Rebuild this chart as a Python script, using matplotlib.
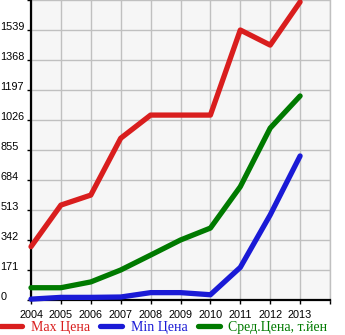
import matplotlib.pyplot as plt
from matplotlib.lines import Line2D

# price history per year
years = [2004, 2005, 2006, 2007, 2008, 2009, 2010, 2011, 2012, 2013]
max_price = [304, 541, 598, 922, 1054, 1054, 1054, 1539, 1453, 1699]
min_price = [5, 15, 15, 17, 42, 42, 30, 186, 485, 821]
avg_price = [70, 70, 103, 171, 256, 342, 410, 646, 980, 1163]

yticks = [0, 171, 342, 513, 684, 855, 1026, 1197, 1368, 1539]

red = '#d91e1e'
blue = '#1a1ad6'
green = '#007a00'

fig = plt.figure(figsize=(3.45, 3.35), dpi=100)
ax = fig.add_axes([31/345, 35/335, 299/345, 300/335])
ax.set_facecolor('#f6f6f6')

lw = 3.8
ax.plot(years, max_price, color=red, lw=lw, solid_capstyle='round',
        solid_joinstyle='round', clip_on=False, zorder=3)
ax.plot(years, min_price, color=blue, lw=lw, solid_capstyle='round',
        solid_joinstyle='round', clip_on=False, zorder=3)
ax.plot(years, avg_price, color=green, lw=lw, solid_capstyle='round',
        solid_joinstyle='round', clip_on=False, zorder=3)

ax.set_xlim(2004, 2014)
ax.set_ylim(0, 1710)
ax.set_xticks(years + [2014])
ax.set_xticklabels([str(y) for y in years] + [''])
ax.set_yticks(yticks + [1710])
ax.set_yticklabels([str(v) for v in yticks] + [''])
ax.grid(True, color='#c0c0c0', lw=1.0, zorder=1)
ax.set_axisbelow(True)

ax.spines['top'].set_visible(False)
ax.spines['right'].set_color('#c0c0c0')
ax.spines['right'].set_linewidth(1.0)
ax.spines['left'].set_linewidth(1.6)
ax.spines['bottom'].set_linewidth(1.6)

ax.tick_params(axis='x', length=3, width=1, pad=4, labelsize=7.8)
ax.tick_params(axis='y', length=3, width=1, pad=19, labelsize=7.8)
for lab in ax.get_xticklabels() + ax.get_yticklabels():
    lab.set_family('Liberation Sans')
for lab in ax.get_yticklabels():
    lab.set_ha('left')
    lab.set_va('baseline')

handles = [Line2D([], [], color=c, lw=lw, solid_capstyle='round') for c in (red, blue, green)]
leg = fig.legend(handles, ['Max Цена', 'Min Цена', 'Сред.Цена, т.йен'],
                 loc='center left', bbox_to_anchor=(0.0, 1 - 327/335), ncol=3,
                 frameon=False, handlelength=1.6, handletextpad=0.6,
                 columnspacing=0.75, borderaxespad=0, borderpad=0,
                 prop={'family': 'Liberation Serif', 'size': 10},
                 labelcolor='linecolor')

fig.savefig('out.png', dpi=100)
